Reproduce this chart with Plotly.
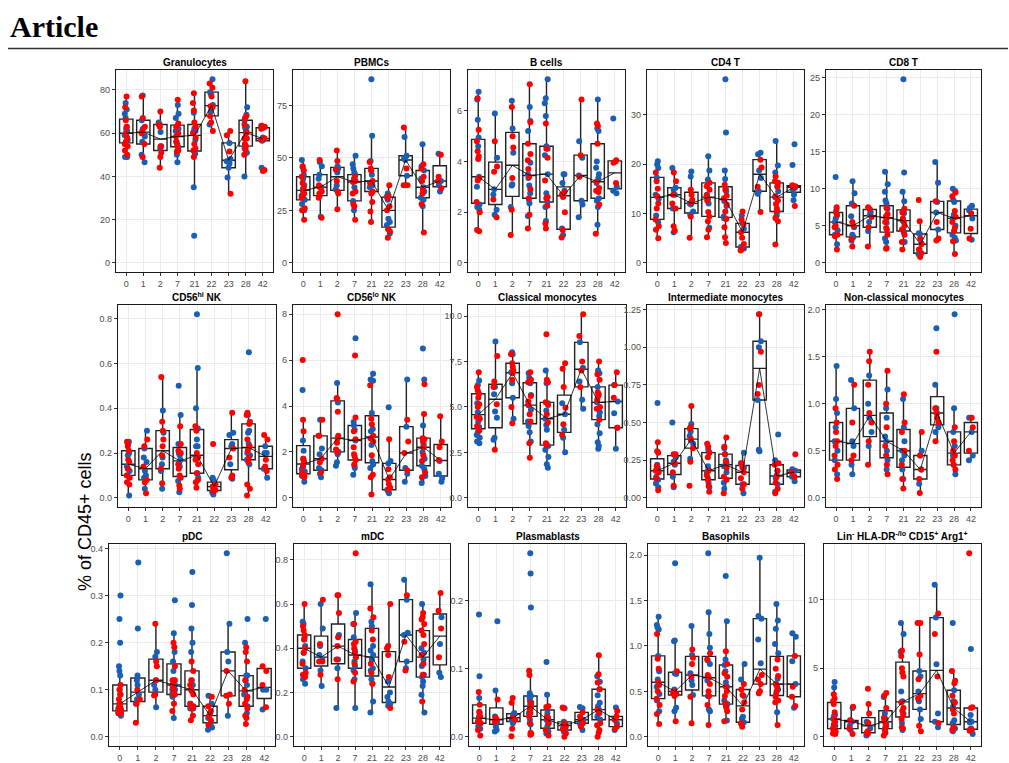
import numpy as np
import plotly.graph_objects as go

W, H = 1009, 763
RED = "#FF0000"
BLUE = "#1A5FB4"

days = ["0", "1", "2", "7", "21", "22", "23", "28", "42"]

titles = ["Granulocytes", "PBMCs", "B cells", "CD4 T", "CD8 T",
          "CD56<sup>hi</sup> NK", "CD56<sup>lo</sup> NK", "Classical monocytes",
          "Intermediate monocytes", "Non-classical monocytes",
          "pDC", "mDC", "Plasmablasts", "Basophils",
          "Lin<sup>-</sup> HLA-DR<sup>-/lo</sup> CD15<sup>+</sup> Arg1<sup>+</sup>"]

# ---- data: per day, values of red and blue subjects ----
gran_red = [[77, 72, 66, 63, 60, 58, 56, 55, 54, 52, 50], [77, 67, 63, 61, 60, 55, 49], [70, 64, 63, 54, 51, 49, 44],
            [75.5, 64.5, 63, 60, 58.5, 56, 54, 52, 51.5], [78.5, 74, 70.5, 65, 63, 60, 58, 55, 53, 52, 49],
            [83, 81, 77, 72, 72.5, 68, 65, 61], [61, 59, 51.5, 32], [84, 68, 67, 64, 60.5, 60, 57.5, 57.5, 55, 54, 52.5, 50],
            [63.5, 63, 62, 57.5, 57, 43, 42.5]]
gran_blue = [[74, 71, 69, 67, 63, 62, 61, 60, 59, 57, 49, 49], [77.5, 66, 62, 58.5, 56, 50, 46.5], [65, 64, 60.5, 54, 53],
             [73, 69, 67, 62, 61, 56, 55, 53.5, 50, 46.5], [69.5, 62, 61, 60.5, 57, 51.5, 50.5, 35, 12.5],
             [85, 79, 78, 73, 70, 64], [55.5, 48, 47, 46, 44, 39.5], [72, 68.5, 66, 63, 62.5, 61, 58, 53, 51, 40],
             [63.5, 62.5, 58, 57.5, 57, 56.5, 44]]

pbmc_red = [[46, 44, 41, 38, 36, 34, 33, 32, 31, 26, 25, 20.5], [49, 37, 36, 34, 33, 31, 21.5], [53.5, 48.5, 44.5, 39, 34, 33, 25.5],
            [41, 39, 38.5, 34, 33, 28, 27, 20.5], [48, 45, 44, 39, 38, 34, 33, 29, 24.5, 19.5], [37, 32, 31, 27, 25, 16, 15, 12],
            [64.5, 45, 37, 37], [47, 45, 41, 39, 35, 33, 28, 14.5], [51.5, 41, 39, 35.5]]
pbmc_blue = [[49, 45.5, 42, 40, 37, 35, 32, 30, 28, 25], [48, 46, 42, 40, 36, 32, 22], [46, 45, 43, 37, 35],
             [51, 47, 45, 43, 42, 40, 36, 29.5, 25], [87.5, 60.5, 48.5, 44, 42, 37, 36], [33, 31.5, 30, 21, 19.5, 18, 14],
             [60, 51, 50, 49, 41.5], [56.5, 46, 44, 40, 36, 34, 31, 30, 27], [52, 39, 37, 34]]

bcell_red = [[6.5, 5.25, 4.8, 4.4, 4.2, 4.1, 3.35, 3.25, 2.4, 2.0, 1.3, 1.25], [4.8, 3.8, 3.6, 2.5, 1.8], [6.15, 5.0, 4.55, 3.35, 2.1, 1.1],
             [7.05, 5.55, 4.7, 4.3, 4.05, 3.7, 3.4, 2.9, 2.55, 1.9, 1.35], [5.5, 4.5, 4.15, 3.25, 2.6, 2.55, 2.25, 1.55, 1.35],
             [2.8, 2.7, 2.6, 2.0, 1.3, 1.0], [6.45, 4.25, 3.4], [5.5, 5.4, 4.7, 3.2, 2.95, 2.85, 2.8, 2.3, 1.15], [4.05, 4.0, 3.95, 3.15]]
bcell_blue = [[6.75, 6.45, 5.65, 4.95, 4.6, 3.4, 3.3, 3.0, 2.3, 2.2, 2.1], [5.9, 4.15, 2.9, 2.7, 2.1, 1.9], [6.4, 5.3, 4.35, 3.1, 3.05, 2.2],
              [6.15, 5.6, 5.2, 3.95, 3.5, 3.35, 3.05, 2.75, 2.5, 2.35, 1.85], [7.25, 6.5, 6.3, 5.8, 4.6, 4.5, 4.25, 3.5, 2.75, 2.4, 2.2, 1.65],
              [3.5, 3.5, 3.15, 2.85, 1.35, 1.1], [4.8, 4.15, 3.45, 2.45, 2.3, 1.8],
              [6.45, 5.3, 5.2, 4.0, 3.75, 3.5, 3.35, 3.15, 2.55, 2.45, 2.2, 1.5], [5.7, 3.0, 2.85, 2.75]]

cd4_red = [[18.3, 16.5, 15, 13.5, 12, 11, 8.8, 7.4, 6.7, 5], [18.3, 16.5, 13.8, 12, 11, 7.4, 6.5], [14.8, 13.8, 12.8, 12.1, 9.4, 5.1],
           [16.2, 15.5, 14.8, 13.7, 12.6, 10.3, 9.4, 8.4, 6.7, 5.2], [15.8, 14.8, 13.6, 13.1, 11.8, 10.4, 8.9, 7.2, 5.2, 4.0],
           [10.4, 8.8, 7.8, 6.2, 5.1, 3.8, 2.8, 2.5], [20.9, 19.3, 15.4, 10.3],
           [17.5, 16.5, 16.2, 15.4, 13.5, 12.6, 11.9, 11, 10.4, 9.1, 8.4, 3.7], [15.7, 15.5, 15.4, 15.3, 11.5]]
cd4_blue = [[20.6, 19.9, 19.2, 17.3, 13.8, 13, 9.6, 8.2], [19.2, 15.2, 14.8, 13.8, 11, 6.2], [18.5, 17.5, 12, 11.8, 10.4, 9.8],
            [21.6, 18.7, 16.9, 16.2, 13.8, 12.9, 12, 7.1], [37.2, 26.4, 18.7, 17, 15, 14.5, 12.5, 11.5, 9.4, 9.0],
            [9.6, 8.0, 6.9, 3.2, 2.9], [22.3, 22.0, 18.7, 17.2, 14.5, 14.0], [24.7, 19.7, 18.3, 15.5, 14.5, 13.3, 10.4, 9.6, 9.1],
            [24.0, 19.8, 15.2, 14.8, 13.8, 12.7]]

cd8_red = [[7.5, 6.8, 6.5, 5, 4.8, 3.8, 3.6, 1.8], [7.7, 5.5, 5.0, 3.2, 2.2], [7.5, 7.3, 6.2, 4.8, 2.2],
           [7.4, 6.6, 6.3, 6.0, 5.5, 4.7, 4.5, 3.8, 2.0, 1.9], [7.3, 6.8, 6.0, 5.5, 5.0, 4.5, 3.8, 2.8, 1.8],
           [8.5, 5.6, 3.3, 2.5, 1.8, 1.3, 0.8], [8.3, 5.5, 3.3, 3.0], [9.5, 9.0, 7.0, 6.2, 5.5, 4.7, 4.3, 2.9, 1.2], [6.7, 4.6, 3.3]]
cd8_blue = [[11.6, 7.2, 6.9, 6.4, 6.0, 5.5, 4.4, 3.8, 2.5], [11, 9.4, 8.0, 6.3, 4.8, 3.8, 3.5, 3.0], [7.2, 6.8, 6.5, 5.5, 4.3],
            [12.3, 10.6, 9.6, 8.4, 8.0, 7.3, 6.2, 5.4, 3.3, 2.8], [24.8, 12.2, 9.6, 8.3, 7.0, 6.7, 5.7, 4.5, 4.1, 2.8],
            [4.0, 3.9, 2.6, 1.8, 1.2, 1.0], [13.6, 10.8, 8.2, 6.8, 4.5], [10, 9.7, 8.5, 8.2, 6.5, 6.0, 5.0, 3.8, 3.4, 3.0],
            [7.7, 7.4, 7.1, 6.0, 3.1]]

nkhi_red = [[0.25, 0.23, 0.21, 0.17, 0.16, 0.13, 0.1, 0.09, 0.07, 0.06], [0.26, 0.23, 0.14, 0.08, 0.07, 0.02],
            [0.54, 0.34, 0.3, 0.26, 0.23, 0.19, 0.13, 0.065], [0.32, 0.24, 0.21, 0.2, 0.15, 0.13, 0.1, 0.09, 0.055, 0.04],
            [0.32, 0.3, 0.2, 0.18, 0.17, 0.15, 0.11, 0.08, 0.07, 0.045], [0.24, 0.06, 0.05, 0.04, 0.035, 0.03],
            [0.38, 0.22, 0.18, 0.1, 0.09], [0.38, 0.37, 0.34, 0.33, 0.26, 0.23, 0.21, 0.18, 0.16, 0.06, 0.04, 0.01],
            [0.28, 0.26, 0.17, 0.14, 0.12]]
nkhi_blue = [[0.25, 0.24, 0.2, 0.19, 0.14, 0.12, 0.1, 0.01], [0.3, 0.22, 0.18, 0.16, 0.12, 0.1, 0.09, 0.04],
             [0.39, 0.29, 0.18, 0.15, 0.12, 0.04], [0.5, 0.37, 0.24, 0.2, 0.19, 0.17, 0.16, 0.14, 0.075, 0.025],
             [0.82, 0.58, 0.4, 0.31, 0.26, 0.23, 0.23, 0.175, 0.11, 0.09], [0.09, 0.08, 0.06, 0.05, 0.025, 0.015],
             [0.29, 0.28, 0.24, 0.23, 0.15, 0.085], [0.65, 0.37, 0.3, 0.29, 0.24, 0.22, 0.2, 0.19, 0.17, 0.15],
             [0.23, 0.2, 0.2, 0.13, 0.09]]

nklo_red = [[6.0, 3.4, 2.9, 1.7, 1.6, 1.4, 1.1, 1.0, 1.0, 0.9], [3.4, 2.7, 2.7, 1.7, 1.55, 1.1],
            [8.0, 4.35, 4.3, 3.75, 2.7, 2.6, 2.4, 2.1, 2.0], [6.2, 3.5, 2.9, 2.55, 2.2, 1.9, 1.8, 1.65, 1.45],
            [4.9, 3.45, 3.2, 2.7, 2.6, 2.45, 1.85, 1.0, 0.9, 0.15], [2.55, 1.25, 0.9, 0.8, 0.6, 0.45, 0.35],
            [3.4, 2.45, 1.95, 1.2], [4.95, 3.65, 2.6, 2.55, 2.45, 2.2, 1.85, 1.6, 1.1, 0.9], [3.55, 2.45, 2.2, 1.65]]
nklo_blue = [[4.7, 2.5, 2.05, 1.7, 1.55, 1.35, 1.25, 1.15, 0.95, 0.7], [3.4, 2.15, 1.9, 1.3, 1.2, 1.05, 0.9],
             [5.0, 4.15, 2.0, 1.9, 1.55, 1.4], [6.95, 3.3, 3.15, 2.95, 2.5, 1.4, 1.3, 1.0],
             [5.4, 5.15, 5.1, 3.7, 3.0, 2.9, 2.3, 1.6, 1.45, 1.3], [3.95, 1.6, 1.5, 0.35, 0.25, 0.2],
             [5.15, 3.1, 1.3, 1.05, 0.7], [6.5, 5.15, 3.15, 2.35, 2.25, 2.0, 1.7, 1.4, 1.25, 0.95, 0.65], [1.6, 1.05, 0.85, 0.7]]

cmono_red = [[6.9, 6.1, 5.9, 5.7, 5.5, 5.15, 5.0, 4.45, 4.35, 3.95, 3.7], [7.8, 6.4, 6.1, 5.15, 2.65],
             [7.9, 7.4, 7.2, 7.0, 6.85, 6.5, 5.0, 4.1], [6.9, 6.5, 6.35, 5.6, 5.3, 5.1, 4.6, 4.2, 3.0, 2.2],
             [9.0, 6.5, 6.35, 5.25, 5.1, 4.6, 4.15, 3.0, 2.9], [7.4, 7.1, 6.1, 4.95, 4.05, 3.45], [10.1, 8.9, 7.5, 7.0, 6.1],
             [7.5, 6.8, 6.5, 5.8, 5.7, 5.6, 5.4, 5.0, 4.9, 4.3], [6.9, 6.2, 5.5, 3.85]]
cmono_blue = [[6.45, 6.2, 5.75, 5.2, 4.7, 4.45, 4.2, 3.9, 3.6, 3.45, 3.3, 3.1, 3.0], [8.6, 6.1, 5.7, 4.75, 4.4, 3.3, 3.2],
              [8.0, 7.9, 6.9, 6.3, 5.5, 4.35], [6.85, 6.6, 6.3, 5.65, 5.1, 4.85, 4.2, 3.95, 3.6, 3.1],
              [7.0, 6.3, 5.2, 4.8, 4.35, 4.0, 3.75, 2.85, 2.65, 2.25, 1.85, 1.65], [5.2, 4.6, 3.75, 3.3, 2.5],
              [8.55, 7.15, 6.4, 5.4, 4.9], [7.0, 6.85, 6.1, 5.25, 4.7, 4.5, 4.05, 3.55, 3.05, 2.85, 2.7], [6.2, 5.3, 4.65, 3.85, 2.7]]

imono_red = [[0.37, 0.31, 0.3, 0.21, 0.18, 0.17, 0.13, 0.05], [0.29, 0.29, 0.23, 0.17, 0.08],
             [0.61, 0.47, 0.46, 0.39, 0.33, 0.24, 0.08], [0.36, 0.34, 0.3, 0.27, 0.18, 0.15, 0.12, 0.08, 0.04],
             [0.4, 0.34, 0.29, 0.24, 0.2, 0.14, 0.12, 0.03], [0.23, 0.2, 0.17, 0.13, 0.09, 0.06], [1.22, 0.97, 0.75, 0.69],
             [0.23, 0.22, 0.18, 0.14, 0.1, 0.06, 0.03], [0.29, 0.17, 0.14]]
imono_blue = [[0.63, 0.22, 0.2, 0.18, 0.14, 0.12, 0.095, 0.07], [0.5, 0.27, 0.24, 0.22, 0.14, 0.07],
              [0.49, 0.44, 0.41, 0.38, 0.36, 0.26], [0.32, 0.3, 0.21, 0.19, 0.17, 0.13, 0.1, 0.07],
              [0.33, 0.29, 0.25, 0.23, 0.21, 0.17, 0.1, 0.06], [0.3, 0.23, 0.2, 0.09, 0.03], [1.22, 1.04, 1.0, 0.65, 0.32, 0.31],
              [0.42, 0.25, 0.18, 0.15, 0.13, 0.09, 0.04], [0.19, 0.18, 0.14, 0.11]]

ncmono_red = [[0.95, 0.8, 0.7, 0.6, 0.55, 0.45, 0.35, 0.3, 0.2], [1.2, 0.8, 0.45, 0.4], [1.55, 1.45, 1.2, 0.9, 0.8, 0.6, 0.35],
              [1.35, 1.0, 0.75, 0.55, 0.45, 0.35, 0.25], [1.1, 0.8, 0.7, 0.5, 0.35, 0.2, 0.1], [0.7, 0.45, 0.3, 0.2, 0.05],
              [1.55, 0.95, 0.9, 0.85, 0.8, 0.6], [0.75, 0.6, 0.5, 0.45, 0.4, 0.35, 0.3], [0.85, 0.75, 0.5]]
ncmono_blue = [[1.4, 1.05, 0.9, 0.75, 0.6, 0.5, 0.4, 0.25], [1.25, 0.95, 0.6, 0.55, 0.35, 0.25], [1.3, 1.0, 0.85, 0.7, 0.55],
               [1.15, 0.95, 0.85, 0.65, 0.6, 0.5, 0.4, 0.3], [1.05, 0.75, 0.6, 0.5, 0.45, 0.4, 0.3, 0.2], [0.5, 0.45, 0.3, 0.15],
               [1.8, 1.2, 0.95, 0.9, 0.75, 0.7], [1.95, 0.95, 0.7, 0.55, 0.45, 0.35, 0.25], [0.85, 0.7, 0.45, 0.4]]

pdc_red = [[0.11, 0.1, 0.09, 0.08, 0.07, 0.07, 0.065, 0.06, 0.06, 0.055, 0.055, 0.05, 0.05], [0.1, 0.08, 0.07, 0.03],
           [0.24, 0.16, 0.15, 0.12, 0.09, 0.088],
           [0.2, 0.19, 0.15, 0.12, 0.12, 0.11, 0.105, 0.1, 0.09, 0.09, 0.07, 0.055],
           [0.16, 0.14, 0.12, 0.11, 0.1, 0.097, 0.09, 0.07, 0.065, 0.06, 0.045, 0.035],
           [0.085, 0.065, 0.055, 0.05, 0.045, 0.035, 0.025], [0.14, 0.09, 0.087, 0.07],
           [0.19, 0.18, 0.16, 0.12, 0.1, 0.085, 0.08, 0.07, 0.06, 0.045, 0.04, 0.027], [0.15, 0.14, 0.11, 0.063]]
pdc_blue = [[0.3, 0.25, 0.2, 0.15, 0.14, 0.13, 0.1, 0.09, 0.065, 0.06, 0.055, 0.05, 0.045],
            [0.37, 0.23, 0.13, 0.12, 0.11, 0.09, 0.08, 0.07],
            [0.18, 0.17, 0.12, 0.11, 0.1, 0.063], [0.29, 0.22, 0.18, 0.16, 0.14, 0.12, 0.11, 0.1, 0.1, 0.09, 0.085, 0.04],
            [0.35, 0.28, 0.23, 0.2, 0.18, 0.12, 0.11, 0.1, 0.07, 0.065, 0.065, 0.06, 0.06], [0.087, 0.07, 0.04, 0.03, 0.02, 0.015],
            [0.39, 0.24, 0.18, 0.16, 0.045], [0.25, 0.2, 0.13, 0.13, 0.12, 0.11, 0.095, 0.09, 0.065, 0.05], [0.25, 0.1, 0.1, 0.058]]

mdc_red = [[0.6, 0.5, 0.48, 0.46, 0.44, 0.4, 0.38, 0.33, 0.29, 0.28, 0.27], [0.62, 0.42, 0.34, 0.34, 0.28],
           [0.64, 0.64, 0.56, 0.45, 0.41, 0.35, 0.26], [0.83, 0.51, 0.43, 0.42, 0.4, 0.38, 0.36, 0.33, 0.29, 0.25],
           [0.58, 0.54, 0.48, 0.44, 0.33, 0.29, 0.24], [0.6, 0.41, 0.4, 0.37, 0.27, 0.13], [0.64, 0.43, 0.3],
           [0.56, 0.54, 0.53, 0.51, 0.48, 0.46, 0.42, 0.37, 0.33, 0.28, 0.16], [0.65, 0.57, 0.49, 0.36]]
mdc_blue = [[0.52, 0.51, 0.45, 0.44, 0.41, 0.38, 0.34, 0.31, 0.26, 0.24], [0.6, 0.49, 0.41, 0.37, 0.35, 0.3, 0.23],
            [0.46, 0.35, 0.31, 0.13], [0.56, 0.51, 0.45, 0.39, 0.36, 0.34, 0.32, 0.3, 0.26, 0.13],
            [0.69, 0.52, 0.5, 0.41, 0.39, 0.37, 0.35, 0.31, 0.3, 0.26, 0.24, 0.16, 0.11], [0.25, 0.2, 0.18, 0.16, 0.15, 0.14],
            [0.71, 0.62, 0.47, 0.46, 0.34, 0.31], [0.6, 0.4, 0.38, 0.35, 0.32, 0.28, 0.27, 0.25, 0.23, 0.19, 0.11],
            [0.54, 0.42, 0.29, 0.27]]

plasma_red = [[0.066, 0.047, 0.037, 0.03, 0.025, 0.022, 0.02, 0.01, 0.002], [0.055, 0.028, 0.025, 0.022],
              [0.057, 0.05, 0.028, 0.025, 0.012, 0.001],
              [0.097, 0.091, 0.05, 0.045, 0.04, 0.035, 0.03, 0.02, 0.006, 0.004, 0.003],
              [0.045, 0.044, 0.03, 0.025, 0.02, 0.01, 0.002], [0.043, 0.042, 0.02, 0.015, 0.012, 0.005, 0.0],
              [0.036, 0.03, 0.025, 0.02, 0.015], [0.12, 0.092, 0.08, 0.07, 0.04, 0.035, 0.02, 0.017, 0.01, 0.006, 0.0],
              [0.038, 0.03, 0.025, 0.015, 0.012]]
plasma_blue = [[0.18, 0.089, 0.057, 0.035, 0.03, 0.025, 0.02, 0.015, 0.012], [0.17, 0.068, 0.03, 0.022, 0.015, 0.01, 0.008],
               [0.035, 0.033, 0.03, 0.025, 0.02],
               [0.27, 0.24, 0.19, 0.064, 0.06, 0.058, 0.054, 0.052, 0.05, 0.045, 0.04, 0.035, 0.025, 0.018],
               [0.11, 0.062, 0.035, 0.028, 0.025, 0.02, 0.015, 0.008, 0.005], [0.042, 0.022, 0.02, 0.018, 0.015, 0.01, 0.008],
               [0.044, 0.042, 0.025, 0.02, 0.01], [0.089, 0.081, 0.07, 0.061, 0.05, 0.045, 0.04, 0.035, 0.03, 0.025],
               [0.043, 0.025, 0.02, 0.01]]

baso_red = [[1.13, 0.86, 0.75, 0.6, 0.57, 0.5, 0.42, 0.35, 0.25, 0.14], [0.72, 0.5, 0.48, 0.47, 0.45, 0.17],
            [0.96, 0.87, 0.8, 0.66, 0.44, 0.15], [0.92, 0.85, 0.68, 0.65, 0.58, 0.5, 0.45, 0.35, 0.13],
            [0.94, 0.8, 0.7, 0.66, 0.55, 0.5, 0.45, 0.37, 0.32, 0.28, 0.17], [0.58, 0.52, 0.46, 0.38, 0.3, 0.15, 0.11],
            [0.68, 0.63, 0.58, 0.5, 0.48], [0.85, 0.75, 0.67, 0.58, 0.55, 0.5, 0.44, 0.4, 0.38, 0.13], [0.89, 0.55, 0.44, 0.34]]
baso_blue = [[1.32, 1.23, 1.2, 1.18, 0.89, 0.72, 0.63, 0.55, 0.47, 0.4, 0.28], [1.91, 1.06, 1.05, 0.7, 0.69, 0.52, 0.5, 0.32, 0.28],
             [1.22, 0.9, 0.7, 0.62, 0.57, 0.46], [2.02, 1.37, 1.13, 0.98, 0.84, 0.8, 0.62, 0.45, 0.3, 0.28],
             [1.77, 1.27, 0.85, 0.79, 0.72, 0.6, 0.55, 0.4, 0.36, 0.34, 0.18], [0.8, 0.63, 0.45, 0.22, 0.2, 0.16, 0.14],
             [1.97, 1.33, 1.3, 1.07, 0.81], [1.46, 1.28, 1.19, 1.02, 0.92, 0.64, 0.58, 0.52, 0.47, 0.27], [1.14, 1.1, 0.83, 0.58, 0.32]]

mdsc_red = [[3.1, 2.8, 2.6, 2.4, 1.8, 1.3, 1.1, 0.9, 0.6, 0.4, 0.25, 0.2], [2.2, 1.2, 0.6, 0.2], [3.5, 2.4, 1.7, 1.0, 0.4, 0.3, 0.2],
            [3.2, 3.0, 2.1, 1.4, 1.2, 1.0, 0.8, 0.5, 0.3, 0.1], [6.3, 5.9, 5.0, 4.7, 4.4, 2.5, 2.1, 1.9, 1.6, 1.3, 0.7, 0.6],
            [8.3, 8.3, 6.0, 4.2, 3.0, 2.8, 0.8, 0.4], [9.0, 7.5, 4.4, 1.0], [4.8, 4.1, 3.9, 3.0, 2.5, 2.0, 1.7, 0.7, 0.5],
            [13.4, 2.15, 2.1, 0.55, 0.5, 0.45]]
mdsc_blue = [[4.0, 3.6, 1.6, 1.5, 1.3, 0.8, 0.6, 0.3], [2.1, 1.2, 1.1, 0.8, 0.5], [1.1, 1.0, 0.6, 0.3, 0.1],
             [2.9, 1.7, 1.3, 1.0, 0.7, 0.5], [8.3, 7.5, 6.2, 3.3, 2.6, 1.7, 1.0, 0.5], [4.8, 4.4, 3.3, 2.6, 2.0, 1.3],
             [11.1, 8.7, 5.3, 1.7, 1.1, 0.7], [8.3, 3.4, 2.6, 2.2, 1.2, 1.0, 0.9, 0.6, 0.4], [6.4, 1.6, 1.15, 1.1, 1.05, 0.6, 0.2]]

panel_red = [gran_red, pbmc_red, bcell_red, cd4_red, cd8_red, nkhi_red, nklo_red, cmono_red, imono_red, ncmono_red,
             pdc_red, mdc_red, plasma_red, baso_red, mdsc_red]
panel_blue = [gran_blue, pbmc_blue, bcell_blue, cd4_blue, cd8_blue, nkhi_blue, nklo_blue, cmono_blue, imono_blue, ncmono_blue,
              pdc_blue, mdc_blue, plasma_blue, baso_blue, mdsc_blue]

# ---- axis tick styling per panel (dtick, format) ----
tick_style = [(20, ""), (25, ""), (2, ""), (10, ""), (5, ""),
              (0.2, ".1f"), (2, ""), (2.5, ".1f"), (0.25, ".2f"), (0.5, ".1f"),
              (0.1, ".1f"), (0.2, ".1f"), (0.1, ".1f"), (0.5, ".1f"), (5, "")]

# ---- layout geometry (pixels) ----
col_px = [[(116, 273), (293, 450), (468, 625), (647, 804), (826, 981)],
          [(118, 276), (293, 451), (468, 626), (647, 804), (826, 981)],
          [(109, 275), (294, 450), (469, 626), (648, 804), (824, 981)]]
row_px = [(70, 272), (305, 507), (544, 746)]


def fx(px):
    return px / W


def fy(py):
    return 1 - py / H


fig = go.Figure()
layout = {}
annotations = []
BOXW = 0.78

for i in range(15):
    r, c = divmod(i, 5)
    sfx = "" if i == 0 else str(i + 1)
    xa, ya = "x" + sfx, "y" + sfx
    red, blue = panel_red[i], panel_blue[i]

    xs_all, ys_all, meds = [], [], []
    xr, yr, xb, yb = [], [], [], []
    for g in range(len(days)):
        vals = red[g] + blue[g]
        xs_all += [g] * len(vals)
        ys_all += vals
        meds.append(float(np.median(vals)))
        xr += [g] * len(red[g]); yr += red[g]
        xb += [g] * len(blue[g]); yb += blue[g]

    fig.add_trace(go.Box(x=xs_all, y=ys_all, xaxis=xa, yaxis=ya, width=BOXW,
                         boxpoints="outliers", quartilemethod="inclusive",
                         marker=dict(color="rgba(0,0,0,0)", size=1, line=dict(width=0)),
                         line=dict(color="#222222", width=1.4), fillcolor="white",
                         whiskerwidth=0, showlegend=False, hoverinfo="skip"))
    fig.add_trace(go.Scatter(x=list(range(len(days))), y=meds, xaxis=xa, yaxis=ya, mode="lines",
                             line=dict(color="black", width=0.8), showlegend=False, hoverinfo="skip"))
    for xx, yy, col in ((xb, yb, BLUE), (xr, yr, RED)):
        fig.add_trace(go.Box(x=xx, y=yy, xaxis=xa, yaxis=ya, width=BOXW,
                             boxpoints="all", jitter=0.3, pointpos=0,
                             fillcolor="rgba(0,0,0,0)", line=dict(color="rgba(0,0,0,0)", width=0),
                             marker=dict(color=col, size=6, line=dict(width=0)),
                             whiskerwidth=0, showlegend=False, hoverinfo="y"))

    hi = max(ys_all)
    lo = min(0, min(ys_all))
    pad = 0.05 * (hi - lo)
    dt, fmt = tick_style[i]
    x0, x1 = col_px[r][c]
    y0, y1 = row_px[r]
    axis_common = dict(showline=True, mirror=True, linecolor="#1a1a1a", linewidth=1.2,
                       ticks="outside", ticklen=3, tickcolor="#333333", tickwidth=1,
                       gridcolor="#EBEBEB", gridwidth=1, zeroline=False,
                       tickfont=dict(family="Liberation Sans, Arial", size=9, color="#4D4D4D"))
    layout["xaxis" + sfx] = dict(domain=[fx(x0), fx(x1)], anchor=ya, range=[-0.6, len(days) - 0.4],
                                 tickmode="array", tickvals=list(range(len(days))), ticktext=days,
                                 **axis_common)
    layout["yaxis" + sfx] = dict(domain=[fy(y1), fy(y0)], anchor=xa, range=[lo - pad, hi + pad],
                                 tick0=0, dtick=dt, tickformat=fmt, **axis_common)
    annotations.append(dict(text="<b>" + titles[i] + "</b>", x=fx((x0 + x1) / 2), y=fy(y0 - 8),
                            xref="paper", yref="paper", xanchor="center", yanchor="middle",
                            showarrow=False, font=dict(family="Liberation Sans, Arial", size=10, color="black")))

annotations.append(dict(text="<b>Article</b>", x=fx(8), y=fy(26.5), xref="paper", yref="paper",
                        xanchor="left", yanchor="middle", showarrow=False,
                        font=dict(family="Liberation Serif, DejaVu Serif", size=30, color="black")))
annotations.append(dict(text="% of CD45+ cells", x=fx(85), y=fy(522), xref="paper", yref="paper",
                        xanchor="center", yanchor="middle", textangle=-90, showarrow=False,
                        font=dict(family="Liberation Sans, Arial", size=18, color="black")))

fig.update_layout(**layout)
fig.update_layout(width=W, height=H, margin=dict(l=0, r=0, t=0, b=0),
                  paper_bgcolor="white", plot_bgcolor="white", boxmode="overlay",
                  annotations=annotations, showlegend=False,
                  shapes=[dict(type="line", xref="paper", yref="paper", x0=fx(8), x1=fx(1008),
                               y0=fy(48.5), y1=fy(48.5), line=dict(color="#333333", width=1.5))])

fig.write_html("out.html")
